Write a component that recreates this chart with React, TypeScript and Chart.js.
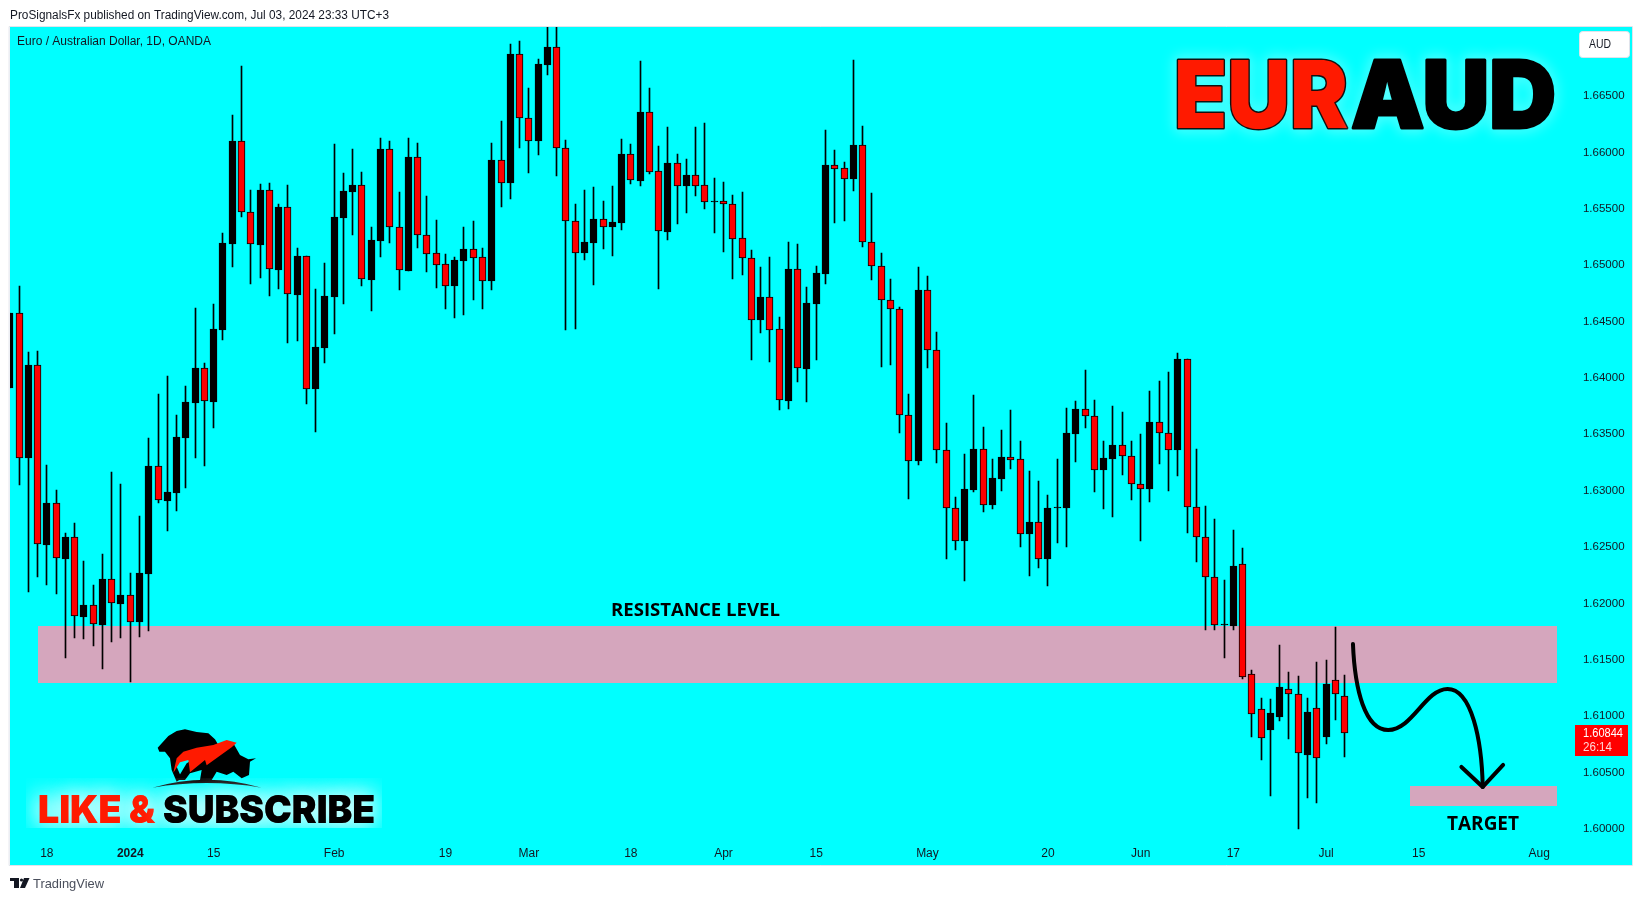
import React, { useEffect, useRef } from "react";
import { Chart, registerables } from "chart.js";

Chart.register(...registerables);

const CATEGORIES = [
  "Dec 12","Dec 13","Dec 14","Dec 15","Dec 18","Dec 19","Dec 20","Dec 21","Dec 22","Dec 26","Dec 27","Dec 28","Dec 29",
  "Jan 2","Jan 3","Jan 4","Jan 5","Jan 8","Jan 9","Jan 10","Jan 11","Jan 12","Jan 15","Jan 16","Jan 17","Jan 18","Jan 19","Jan 22","Jan 23","Jan 24","Jan 25","Jan 26","Jan 29","Jan 30","Jan 31",
  "Feb 1","Feb 2","Feb 5","Feb 6","Feb 7","Feb 8","Feb 9","Feb 12","Feb 13","Feb 14","Feb 15","Feb 16","Feb 19","Feb 20","Feb 21","Feb 22","Feb 23","Feb 26","Feb 27","Feb 28","Feb 29",
  "Mar 1","Mar 4","Mar 5","Mar 6","Mar 7","Mar 8","Mar 11","Mar 12","Mar 13","Mar 14","Mar 15","Mar 18","Mar 19","Mar 20","Mar 21","Mar 22","Mar 25","Mar 26","Mar 27","Mar 28","Mar 29",
  "Apr 1","Apr 2","Apr 3","Apr 4","Apr 5","Apr 8","Apr 9","Apr 10","Apr 11","Apr 12","Apr 15","Apr 16","Apr 17","Apr 18","Apr 19","Apr 22","Apr 23","Apr 24","Apr 25","Apr 26","Apr 29","Apr 30",
  "May 1","May 2","May 3","May 6","May 7","May 8","May 9","May 10","May 13","May 14","May 15","May 16","May 17","May 20","May 21","May 22","May 23","May 24","May 27","May 28","May 29","May 30","May 31",
  "Jun 3","Jun 4","Jun 5","Jun 6","Jun 7","Jun 10","Jun 11","Jun 12","Jun 13","Jun 14","Jun 17","Jun 18","Jun 19","Jun 20","Jun 21","Jun 24","Jun 25","Jun 26","Jun 27","Jun 28",
  "Jul 1","Jul 2","Jul 3","Jul 4","Jul 5","Jul 8","Jul 9","Jul 10","Jul 11","Jul 12","Jul 15","Jul 16","Jul 17","Jul 18","Jul 19","Jul 22","Jul 23","Jul 24","Jul 25","Jul 26","Jul 29","Jul 30","Jul 31",
  "Aug 1","Aug 2","Aug 5","Aug 6","Aug 7",
];

const X_TICK_LABELS: Record<string, string> = {
  "Dec 18": "18", "Jan 2": "2024", "Jan 15": "15", "Feb 1": "Feb", "Feb 19": "19", "Mar 1": "Mar", "Mar 18": "18",
  "Apr 1": "Apr", "Apr 15": "15", "May 1": "May", "May 20": "20", "Jun 3": "Jun", "Jun 17": "17", "Jul 1": "Jul",
  "Jul 15": "15", "Aug 1": "Aug",
};

const OPENS = [
  1.63902,1.64567,1.63281,1.64106,1.6251,1.62882,1.62385,1.62581,1.61871,1.61978,1.618,1.62208,1.61986,1.62066,1.61827,
  1.62252,1.6321,1.629,1.62971,1.63459,1.63769,1.64079,1.63778,1.64416,1.65179,1.66092,1.65463,1.6517,1.65658,1.64948,
  1.65507,1.64727,1.65072,1.63893,1.64257,1.64709,1.65409,1.6564,1.65702,1.6486,1.65206,1.66021,1.6533,1.64939,1.6595,
  1.65259,1.65099,1.65002,1.64806,1.65028,1.65135,1.65064,1.64851,1.65924,1.6572,1.66864,1.66296,1.66092,1.66766,1.66926,
  1.6603,1.65383,1.65099,1.65188,1.654,1.6533,1.65365,1.65977,1.65738,1.66349,1.65826,1.65285,1.65897,1.65693,1.65791,
  1.65702,1.65551,1.6556,1.65534,1.65232,1.65055,1.64505,1.64709,1.64425,1.63787,1.64957,1.6407,1.64647,1.64913,1.65879,
  1.65853,1.65755,1.66057,1.65197,1.64984,1.64682,1.64602,1.63662,1.63255,1.64771,1.64239,1.63352,1.62838,1.62545,1.62997,
  1.63361,1.62864,1.63095,1.6329,1.63272,1.62607,1.62714,1.62385,1.62838,1.62838,1.63494,1.63716,1.63654,1.63175,1.63272,
  1.63396,1.63299,1.63051,1.63006,1.636,1.63503,1.63352,1.64159,1.62847,1.62581,1.62226,1.61809,1.61791,1.62341,1.61366,
  1.61055,1.60869,1.60984,1.61233,1.61188,1.60647,1.61064,1.60807,1.61312,1.61171,
];
const HIGHS = [
  1.64567,1.64806,1.64221,1.6423,1.63219,1.62997,1.62616,1.62705,1.62368,1.62155,1.6243,1.63157,1.63051,1.62261,1.62767,
  1.63459,1.63849,1.64008,1.63662,1.6392,1.64611,1.64124,1.64647,1.65276,1.66323,1.66757,1.65658,1.65711,1.6572,1.65534,
  1.65702,1.65143,1.65072,1.6478,1.6501,1.66066,1.65809,1.66021,1.65817,1.6533,1.66119,1.66092,1.6564,1.66119,1.66075,
  1.65604,1.65392,1.6509,1.65064,1.6533,1.65383,1.65143,1.66075,1.6627,1.66953,1.66979,1.66562,1.6682,1.67165,1.6715,
  1.66101,1.65534,1.65658,1.65684,1.6556,1.65693,1.6611,1.66066,1.66802,1.66562,1.66048,1.66216,1.65977,1.65933,1.66216,
  1.66252,1.65764,1.65729,1.65613,1.6564,1.65126,1.64975,1.65064,1.64532,1.65197,1.65179,1.64798,1.64984,1.6619,1.66013,
  1.65906,1.66811,1.66225,1.65631,1.65099,1.64869,1.6462,1.63849,1.64975,1.64895,1.64399,1.63592,1.62935,1.63317,1.6384,
  1.63556,1.63272,1.63529,1.63707,1.63432,1.63166,1.63077,1.62953,1.63272,1.63725,1.63787,1.64062,1.63796,1.63432,1.63742,
  1.63689,1.63432,1.63494,1.63875,1.63964,1.64044,1.64212,1.64159,1.63361,1.62855,1.6274,1.62199,1.62643,1.62483,1.61401,
  1.61153,1.61144,1.61623,1.61383,1.61348,1.61153,1.61472,1.6149,1.61782,1.61357,
];
const LOWS = [
  1.63902,1.63042,1.62093,1.62226,1.62155,1.62075,1.61508,1.61685,1.61676,1.61614,1.6141,1.61649,1.61685,1.61295,1.61694,
  1.61747,1.62882,1.62634,1.62811,1.63015,1.63281,1.6321,1.63547,1.64328,1.64975,1.65418,1.64824,1.64877,1.64718,1.6478,
  1.64301,1.64319,1.6376,1.63512,1.64124,1.64381,1.64647,1.65259,1.64806,1.64585,1.65064,1.65188,1.64771,1.64939,1.65143,
  1.64931,1.64789,1.64602,1.64523,1.64549,1.64682,1.64602,1.64771,1.65507,1.65578,1.6603,1.65809,1.65968,1.66678,1.65782,
  1.64416,1.64425,1.65037,1.64815,1.65135,1.65072,1.65303,1.65711,1.65693,1.658,1.6478,1.65214,1.65356,1.65454,1.65604,
  1.65489,1.65276,1.65108,1.64869,1.64904,1.6415,1.6439,1.64132,1.63707,1.63716,1.63955,1.63778,1.6415,1.64824,1.65365,
  1.65383,1.65649,1.65152,1.6486,1.64088,1.64106,1.63503,1.62918,1.63219,1.64079,1.63237,1.62385,1.62465,1.6219,1.6298,
  1.62802,1.62829,1.62989,1.63184,1.62492,1.62235,1.62306,1.62146,1.62527,1.62492,1.63246,1.63547,1.6298,1.62829,1.62758,
  1.6313,1.62909,1.62545,1.62891,1.63228,1.62989,1.63122,1.62616,1.62359,1.61756,1.61756,1.61508,1.61756,1.61321,1.60807,
  1.60603,1.60284,1.60949,1.60789,1.59991,1.60266,1.60222,1.60745,1.60958,1.6063,
];
const CLOSES = [
  1.64567,1.63281,1.64106,1.62518,1.62882,1.62394,1.62581,1.6188,1.61978,1.61809,1.62208,1.61995,1.62066,1.61827,1.62261,
  1.6321,1.62909,1.6298,1.63467,1.63778,1.64079,1.63787,1.64425,1.65188,1.66092,1.65463,1.65179,1.65658,1.64957,1.65507,
  1.64736,1.65072,1.63893,1.64266,1.64718,1.65418,1.65649,1.65702,1.64869,1.65214,1.66021,1.6533,1.64948,1.6595,1.65259,
  1.6509,1.64993,1.64806,1.65037,1.65135,1.65055,1.64851,1.65924,1.6572,1.66864,1.66296,1.66092,1.66775,1.66926,1.6603,
  1.65383,1.65099,1.65197,1.654,1.6533,1.65374,1.65977,1.65746,1.66349,1.65817,1.65294,1.65897,1.65693,1.65791,1.65693,
  1.65551,1.6556,1.65534,1.65223,1.65055,1.64505,1.64709,1.64416,1.63796,1.64957,1.64079,1.64656,1.64922,1.65879,1.65844,
  1.65755,1.66057,1.65197,1.64984,1.64682,1.64602,1.63662,1.63255,1.64771,1.64239,1.63352,1.62838,1.62545,1.63006,1.63361,
  1.62864,1.63104,1.6329,1.63263,1.62607,1.62714,1.62385,1.62838,1.62847,1.63503,1.63716,1.63654,1.63175,1.63281,1.63396,
  1.63299,1.63051,1.63006,1.636,1.63503,1.63352,1.64159,1.62847,1.62581,1.62226,1.618,1.618,1.62323,1.61339,1.61011,
  1.60798,1.6102,1.6125,1.61188,1.60665,1.61029,1.60621,1.61277,1.61188,1.60844,
];

const Y_MIN = 1.59911;
const Y_MAX = 1.67103;
const Y_STEP = 0.005;
const LAST_PRICE = "1.60844";
const COUNTDOWN = "26:14";

// Annotation shapes, as [category index, price].
const RESISTANCE_ZONE = { from: 3.0, to: 166.9, top: 1.61793, bottom: 1.61285 };
const TARGET_ZONE = { from: 151, to: 166.9, top: 1.60372, bottom: 1.60192 };
const PATH_START: [number, number] = [144.9, 1.61632];
const PATH_CURVES: [number, number][][] = [
  [[145.1, 1.61224], [146.2, 1.60869], [148.7, 1.60869]],
  [[151.3, 1.60869], [152.7, 1.61233], [155.1, 1.61233]],
  [[157.7, 1.61233], [158.8, 1.6078], [158.9, 1.60364]],
];
const ARROW_HEAD: [number, number][] = [[156.6, 1.60541], [158.9, 1.60364], [161.1, 1.60559]];

const FONT_UI = '"Liberation Sans", Arial, sans-serif';
const FONT_HEAVY = 'Inter, "Open Sans", sans-serif';
const CYAN = "#00ffff";
const RED = "#ff0000";
const ZONE = "#d5a6bd";
const INK = "#131722";

// Writes text so that it spans exactly w pixels, like the reference's narrower or wider face.
function fit(ctx: CanvasRenderingContext2D, s: string, x: number, y: number, font: string, color: string, w?: number) {
  ctx.save();
  ctx.font = font;
  ctx.fillStyle = color;
  ctx.textAlign = "left";
  ctx.textBaseline = "middle";
  ctx.translate(x, y);
  if (w) ctx.scale(w / ctx.measureText(s).width, 1);
  ctx.fillText(s, 0, 0);
  ctx.restore();
}

function poly(ctx: CanvasRenderingContext2D, pts: number[][], color: string) {
  ctx.beginPath();
  pts.forEach(([zx, zy], i) => {
    const x = zx / 3;
    const y = 450 + zy / 3;
    if (i) ctx.lineTo(x, y);
    else ctx.moveTo(x, y);
  });
  ctx.closePath();
  ctx.fillStyle = color;
  ctx.fill();
}

function drawLogo(ctx: CanvasRenderingContext2D) {
  ctx.save();
  poly(ctx, [[473,893],[488,877],[505,858],[530,843],[555,838],[590,846],[625,850],[645,868],[655,885],[600,915],[540,925],[530,950],[545,985],[530,995],[515,960],[510,925],[495,905],[478,905]], "#000");
  poly(ctx, [[655,885],[700,880],[720,915],[745,928],[768,925],[750,935],[747,975],[725,985],[700,965],[680,975],[650,965],[635,990],[600,990],[605,960],[570,970],[555,990],[530,990],[560,940]], "#000");
  poly(ctx, [[520,968],[530,925],[550,905],[590,893],[640,885],[680,870],[710,878],[695,892],[620,946],[615,930],[570,967],[565,930],[540,937]], "#ff1a00");
  ctx.beginPath();
  ctx.moveTo(457 / 3, 450 + 1013 / 3);
  ctx.quadraticCurveTo(620 / 3, 450 + 965 / 3, 785 / 3, 450 + 1013 / 3);
  ctx.quadraticCurveTo(620 / 3, 450 + 985 / 3, 457 / 3, 450 + 1013 / 3);
  ctx.fillStyle = "#000";
  ctx.fill();

  ctx.beginPath();
  ctx.rect(26, 778, 356, 50);
  ctx.clip();
  ctx.shadowColor = "rgba(255,255,255,0.95)";
  ctx.shadowBlur = 22;
  const font = `900 39px ${FONT_HEAVY}`;
  for (let pass = 0; pass < 2; pass += 1) {
    fit(ctx, "LIKE &", 38, 811, font, "#ff1a00", 117);
    fit(ctx, "SUBSCRIBE", 163, 811, font, "#000", 212);
  }
  ctx.restore();
}

function drawWord(ctx: CanvasRenderingContext2D, s: string, x: number, w: number, fill: string, stroke: string) {
  ctx.save();
  ctx.font = `900 94px ${FONT_HEAVY}`;
  ctx.textAlign = "left";
  ctx.textBaseline = "alphabetic";
  ctx.lineJoin = "round";
  ctx.lineWidth = 3;
  ctx.strokeStyle = stroke;
  ctx.translate(x, 128);
  ctx.scale(w / ctx.measureText(s).width, 1);
  ctx.shadowColor = "rgba(255,255,255,0.95)";
  ctx.shadowBlur = 13;
  ctx.strokeText(s, 0, 0);
  ctx.shadowBlur = 0;
  ctx.fillStyle = fill;
  ctx.fillText(s, 0, 0);
  ctx.restore();
}

const framePlugin = {
  id: "frame",
  beforeDraw(chart: any) {
    const { ctx } = chart;
    ctx.save();
    ctx.fillStyle = "#ffffff";
    ctx.fillRect(0, 0, 1643, 901);
    ctx.fillStyle = CYAN;
    ctx.fillRect(10, 27, 1622, 838);
    ctx.restore();
    if (!chart.$labelsShifted) {
      chart.$labelsShifted = true;
      chart.scales.y.getLabelItems(chart.chartArea).forEach((it: any) => {
        it.options.translation = [it.options.translation[0], it.options.translation[1] + 1];
      });
    }
  },
  beforeDatasetsDraw(chart: any) {
    const { ctx, scales } = chart;
    const { x, y } = scales;
    ctx.save();
    ctx.fillStyle = ZONE;
    [RESISTANCE_ZONE, TARGET_ZONE].forEach((z) => {
      const l = Math.round(x.getPixelForValue(z.from));
      const r = Math.round(x.getPixelForValue(z.to));
      const t = Math.round(y.getPixelForValue(z.top));
      const b = Math.round(y.getPixelForValue(z.bottom));
      ctx.fillRect(l, t, r - l, b - t);
    });
    ctx.restore();
  },
  afterDatasetsUpdate(chart: any) {
    chart.getSortedVisibleDatasetMetas().forEach((meta: any) => {
      meta.data.forEach((el: any) => {
        el.x = Math.floor(el.x) + 0.5;
        el.y = Math.round(el.y);
        el.base = Math.round(el.base);
        if (Math.abs(el.y - el.base) < 1) el.base = el.y + 1;
      });
    });
  },
  afterDatasetsDraw(chart: any) {
    const { ctx, scales } = chart;
    const { x, y } = scales;
    const px = (p: [number, number]) => [x.getPixelForValue(p[0]), y.getPixelForValue(p[1])];
    ctx.save();

    ctx.strokeStyle = "#000";
    ctx.lineWidth = 4;
    ctx.lineCap = "round";
    ctx.lineJoin = "round";
    ctx.beginPath();
    ctx.moveTo(...(px(PATH_START) as [number, number]));
    PATH_CURVES.forEach(([a, b, c]) => {
      const [ax, ay] = px(a);
      const [bx, by] = px(b);
      const [cx, cy] = px(c);
      ctx.bezierCurveTo(ax, ay, bx, by, cx, cy);
    });
    ctx.stroke();
    ctx.beginPath();
    ARROW_HEAD.forEach((p, i) => {
      const [ax, ay] = px(p);
      if (i) ctx.lineTo(ax, ay);
      else ctx.moveTo(ax, ay);
    });
    ctx.stroke();

    fit(ctx, "RESISTANCE LEVEL", 611, 611, `700 18px "Open Sans", sans-serif`, "#000", 169);
    fit(ctx, "TARGET", 1447, 825, `700 19px "Open Sans", sans-serif`, "#000", 72);

    drawLogo(ctx);
    drawWord(ctx, "EUR", 1174, 174, "#ff1a00", "#111");
    drawWord(ctx, "AUD", 1351, 205, "#000", "#000");

    fit(ctx, "Euro / Australian Dollar, 1D, OANDA", 17, 42, `12px ${FONT_UI}`, INK, 194);

    ctx.fillStyle = "#ffffff";
    ctx.strokeStyle = "#e0e3eb";
    ctx.lineWidth = 1;
    ctx.beginPath();
    ctx.roundRect(1579.5, 31.5, 50, 26, 3);
    ctx.fill();
    ctx.stroke();
    fit(ctx, "AUD", 1589, 44.5, `12px ${FONT_UI}`, INK, 22);

    ctx.fillStyle = RED;
    ctx.fillRect(1575, 725, 53, 31);
    fit(ctx, LAST_PRICE, 1583, 734, `12px ${FONT_UI}`, "#ffffff", 40);
    fit(ctx, COUNTDOWN, 1583, 748, `12px ${FONT_UI}`, "#ffd6d6", 29);

    ctx.fillStyle = "#ffffff";
    ctx.fillRect(0, 27, 10, 838);
    ctx.strokeStyle = "#e0e3eb";
    ctx.lineWidth = 1;
    ctx.strokeRect(9.5, 26.5, 1623, 839);

    fit(ctx, "ProSignalsFx published on TradingView.com, Jul 03, 2024 23:33 UTC+3", 10, 15.5, `12px ${FONT_UI}`, INK, 379);

    ctx.fillStyle = "#131722";
    ctx.fillRect(10, 878, 9, 3);
    ctx.fillRect(14, 878, 5, 10);
    ctx.beginPath();
    ctx.arc(21.5, 880, 1.6, 0, Math.PI * 2);
    ctx.fill();
    ctx.beginPath();
    ctx.moveTo(24, 878);
    ctx.lineTo(29.5, 878);
    ctx.lineTo(25, 888);
    ctx.lineTo(20, 888);
    ctx.closePath();
    ctx.fill();
    fit(ctx, "TradingView", 33, 884, `13px ${FONT_UI}`, "#4a4f5c", 71);

    ctx.restore();
  },
};

const isDoji = (i: number) => Math.abs(OPENS[i] - CLOSES[i]) < 0.00012;

export default function App() {
  const ref = useRef<HTMLCanvasElement | null>(null);
  useEffect(() => {
    const canvas = ref.current;
    if (!canvas) return;
    const chart = new Chart(canvas, {
      type: "bar",
      data: {
        labels: CATEGORIES,
        datasets: [
          {
            label: "Body",
            data: OPENS.map((o, i) => [o, CLOSES[i]]),
            backgroundColor: OPENS.map((o, i) => (isDoji(i) ? "#000" : CLOSES[i] < o ? RED : "#000")),
            borderColor: "#000",
            borderWidth: 1,
            borderSkipped: false,
            barThickness: 7,
            grouped: false,
            order: 1,
          },
          {
            label: "Wick",
            data: HIGHS.map((h, i) => [LOWS[i], h]),
            backgroundColor: "#000",
            borderWidth: 0,
            barThickness: 1,
            grouped: false,
            order: 2,
          },
        ] as any,
      },
      options: {
        animation: false,
        responsive: false,
        devicePixelRatio: 1,
        layout: { padding: { left: 9.73, top: 27, right: 11, bottom: 36 } },
        plugins: { legend: { display: false }, tooltip: { enabled: false }, title: { display: false } },
        scales: {
          x: {
            type: "category",
            offset: false,
            grid: { display: false, drawTicks: false },
            border: { display: false },
            afterFit: (s: any) => { s.height = 27; },
            ticks: {
              autoSkip: false,
              maxRotation: 0,
              minRotation: 0,
              padding: 8,
              color: INK,
              font: (c: any) => (CATEGORIES[c.index] === "Jan 2"
                ? { family: FONT_UI, size: 12, weight: "bold" }
                : { family: FONT_UI, size: 12 }),
              callback: (_v: any, i: number) => X_TICK_LABELS[CATEGORIES[i]] ?? "",
            },
          },
          y: {
            type: "linear",
            position: "right",
            min: Y_MIN,
            max: Y_MAX,
            grid: { display: false, drawTicks: false },
            border: { display: false },
            afterFit: (s: any) => { s.width = 55.64; },
            ticks: {
              stepSize: Y_STEP,
              includeBounds: false,
              autoSkip: false,
              padding: 6.6,
              crossAlign: "near",
              color: INK,
              font: { family: FONT_UI, size: 11.5 },
              callback: (v: any) => Number(v).toFixed(5),
            },
          },
        },
      } as any,
      plugins: [framePlugin as any],
    });
    return () => chart.destroy();
  }, []);
  return (
    <div style={{ position: "absolute", left: 0, top: 0, width: 1643, height: 901, background: "#fff" }}>
      <canvas ref={ref} width={1643} height={901} style={{ display: "block", width: 1643, height: 901 }} />
    </div>
  );
}
